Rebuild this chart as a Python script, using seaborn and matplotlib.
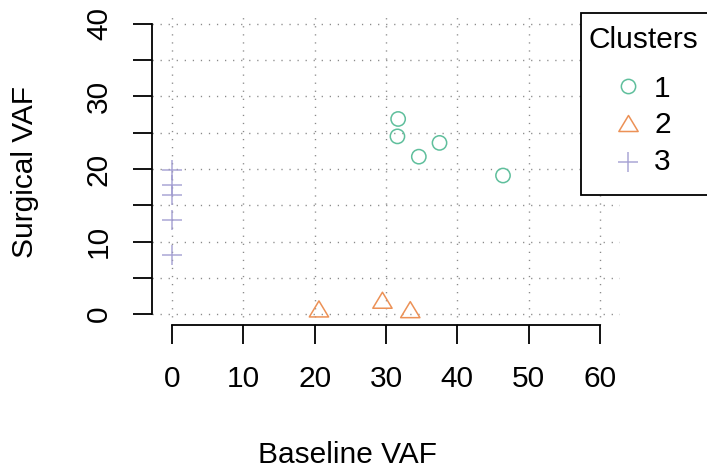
import matplotlib
matplotlib.use("Agg")
import matplotlib.pyplot as plt
import pandas as pd
import seaborn as sns
from matplotlib.lines import Line2D
from matplotlib.patches import Rectangle
from matplotlib.path import Path
from matplotlib.markers import MarkerStyle

# Variant allele fractions (%) per mutation, grouped by cluster
baseline_vaf = [31.7, 31.6, 34.6, 37.5, 46.4, 20.6, 29.5, 33.4, 0, 0, 0, 0, 0]
surgical_vaf = [26.9, 24.5, 21.7, 23.6, 19.1, 0.7, 1.9, 0.6, 19.9, 17.8, 16.4, 13.0, 8.1]
cluster = ["1"] * 5 + ["2"] * 3 + ["3"] * 5

cluster_levels = ["1", "2", "3"]
cluster_colors = ["#5fbf9c", "#ec9156", "#9d98cf"]
x_ticks = [0, 10, 20, 30, 40, 50, 60]
y_ticks = [0, 5, 10, 15, 20, 25, 30, 35, 40]
y_tick_labels = ["0", "", "10", "", "20", "", "30", "", "40"]

df = pd.DataFrame({"Baseline VAF": baseline_vaf,
                   "Surgical VAF": surgical_vaf,
                   "Cluster": cluster})

plt.rcParams["font.family"] = ["Liberation Sans", "DejaVu Sans"]

W, H = 707, 474
fig = plt.figure(figsize=(W / 100, H / 100), dpi=100)
ax = fig.add_axes([152 / W, 1 - 325 / H, (620 - 152) / W, (325 - 12) / H])

palette = sns.color_palette(cluster_colors)
triangle = MarkerStyle(Path([(0, 0.83), (-1, -0.83), (1, -0.83), (0, 0.83)],
                            [Path.MOVETO, Path.LINETO, Path.LINETO, Path.CLOSEPOLY]))
styles = {
    "1": dict(marker="o", s=106, facecolor="none"),
    "2": dict(marker=triangle, s=193, facecolor="none"),
    "3": dict(marker="+", s=227),
}
lw = 1.1

for lvl, col in zip(cluster_levels, palette):
    sub = df[df["Cluster"] == lvl]
    kw = dict(styles[lvl])
    if lvl == "3":
        kw["color"] = col
        kw["alpha"] = 0.85
    else:
        kw["edgecolor"] = col
        kw["color"] = col
    sns.scatterplot(data=sub, x="Baseline VAF", y="Surgical VAF", ax=ax,
                    linewidth=lw, legend=False, zorder=3, **kw)

ax.set_xlim(-2.804, 62.80)
ax.set_ylim(-1.517, 41.655)
ax.set_xticks(x_ticks)
ax.set_yticks(y_ticks)
ax.set_yticklabels(y_tick_labels)

ax.grid(True, color="#8a8a8a", linestyle=(0, (0.9, 4.9)), linewidth=1.0, zorder=0)
ax.set_axisbelow(True)

for side in ["top", "right"]:
    ax.spines[side].set_visible(False)
ax.spines["left"].set_bounds(0, 40)
ax.spines["bottom"].set_bounds(0, 60)
for side in ["left", "bottom"]:
    ax.spines[side].set_linewidth(1.3)

ax.tick_params(axis="both", direction="out", length=13.7, width=1.3,
               labelsize=21.5, colors="black")
ax.tick_params(axis="x", pad=15)
ax.tick_params(axis="y", pad=14.4, labelrotation=90)
for lab in ax.get_yticklabels():
    lab.set_verticalalignment("center")

ax.set_xlabel("Baseline VAF", fontsize=21.5)
ax.set_ylabel("Surgical VAF", fontsize=21.5)
ax.xaxis.set_label_coords((347 - 152) / 468, (325 - 455) / 313)
ax.yaxis.set_label_coords((25 - 152) / 468, (325 - 172) / 313)
ax.xaxis.label.set_verticalalignment("center")
ax.yaxis.label.set_verticalalignment("center")


def fx(px):
    return px / W


def fy(py):
    return 1 - py / H


# Legend box
fig.add_artist(Rectangle((fx(580.7), fy(195)), fx(712) - fx(580.7), fy(13) - fy(195),
                         transform=fig.transFigure, facecolor="white",
                         edgecolor="black", linewidth=1.3, zorder=5))
fig.text(fx(643), fy(48.3), "Clusters", fontsize=21.5, ha="center",
         va="baseline", zorder=6)
row_marker_y = [86, 123, 161.7]
row_text_y = [96.7, 133, 170]
for lvl, col, my, ty in zip(cluster_levels, palette, row_marker_y, row_text_y):
    st = styles[lvl]
    msize = st["s"] ** 0.5
    if lvl == "3":
        h = Line2D([fx(628.3)], [fy(my)], marker=st["marker"], markersize=msize,
                   color=col, markeredgewidth=lw, linestyle="none", alpha=0.85,
                   transform=fig.transFigure, zorder=6)
    else:
        h = Line2D([fx(628.3)], [fy(my)], marker=st["marker"], markersize=msize,
                   markerfacecolor="none", markeredgecolor=col, markeredgewidth=lw,
                   linestyle="none", transform=fig.transFigure, zorder=6)
    fig.add_artist(h)
    fig.text(fx(654), fy(ty), lvl, fontsize=21.5, ha="left", va="baseline", zorder=6)

fig.savefig("out.png", dpi=100)
